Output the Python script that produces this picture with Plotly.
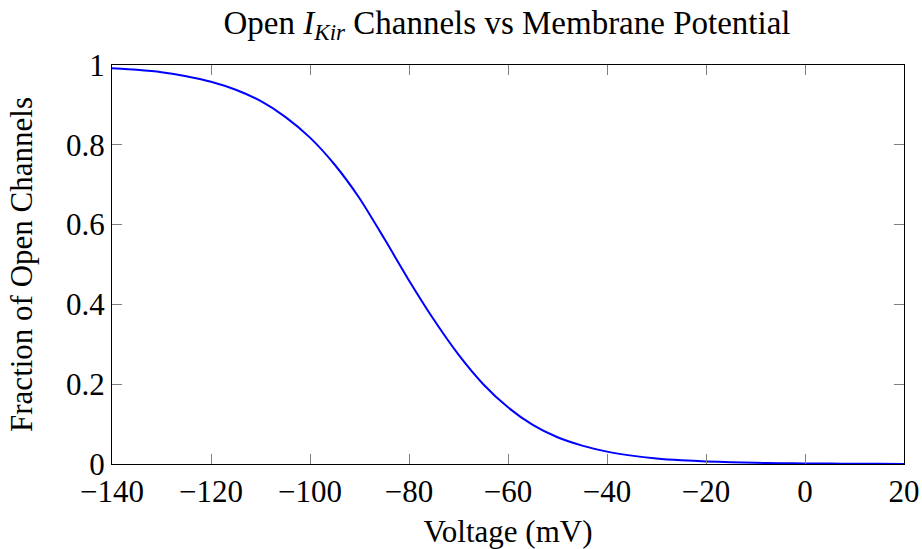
import plotly.graph_objects as go

# Membrane potential (mV) and fraction of open Kir channels at each potential
voltage_mV = [-140, -135, -130, -125, -120, -115, -110, -105, -100, -95, -90,
              -85, -80, -75, -70, -65, -60, -55, -50, -45, -40, -35, -30,
              -25, -20, -15, -10, -5, 0, 5, 10, 15, 20]
open_fraction = [0.992, 0.988, 0.982, 0.972, 0.958, 0.938, 0.910, 0.870, 0.818,
                 0.750, 0.666, 0.565, 0.460, 0.362, 0.274, 0.200, 0.142, 0.098,
                 0.067, 0.046, 0.031, 0.021, 0.014, 0.0095, 0.0065, 0.0044,
                 0.003, 0.002, 0.0014, 0.001, 0.0007, 0.0005, 0.0003]

x_ticks = [-140, -120, -100, -80, -60, -40, -20, 0, 20]
y_ticks = [0, 0.2, 0.4, 0.6, 0.8, 1]
y_tick_text = ["0", "0.2", "0.4", "0.6", "0.8", "1"]

FONT = "Liberation Serif"
SIZE = 31

fig = go.Figure()
fig.add_trace(go.Scatter(
    x=voltage_mV, y=open_fraction, mode="lines",
    line=dict(color="#0000ff", width=2, shape="spline", smoothing=0.6),
    showlegend=False, hoverinfo="skip",
))

axis_common = dict(
    showgrid=False, zeroline=False, automargin=False,
    showline=True, linecolor="black", linewidth=1, mirror="allticks",
    ticks="inside", ticklen=10, tickwidth=1, tickcolor="#808080",
    tickfont=dict(family=FONT, size=SIZE, color="black"),
)

fig.update_layout(
    width=922, height=549,
    margin=dict(l=112, r=18, t=65, b=85),
    paper_bgcolor="white", plot_bgcolor="white",
    font=dict(family=FONT, color="black"),
    title=dict(
        text="Open <i>I</i><sub><i>Kir</i></sub> Channels vs Membrane Potential",
        font=dict(family=FONT, size=33, color="black"),
        x=507 / 922, xanchor="center", y=1 - 22 / 549, yanchor="middle",
        xref="container", yref="container",
    ),
    xaxis=dict(
        range=[-140, 20], tickvals=x_ticks,
        title=dict(text="Voltage (mV)", font=dict(family=FONT, size=SIZE), standoff=20),
        **axis_common,
    ),
    yaxis=dict(
        range=[0, 1], tickvals=y_ticks, ticktext=y_tick_text,
        title=dict(text="Fraction of Open Channels", font=dict(family=FONT, size=SIZE), standoff=24),
        **axis_common,
    ),
)

fig.write_html("out.html")
